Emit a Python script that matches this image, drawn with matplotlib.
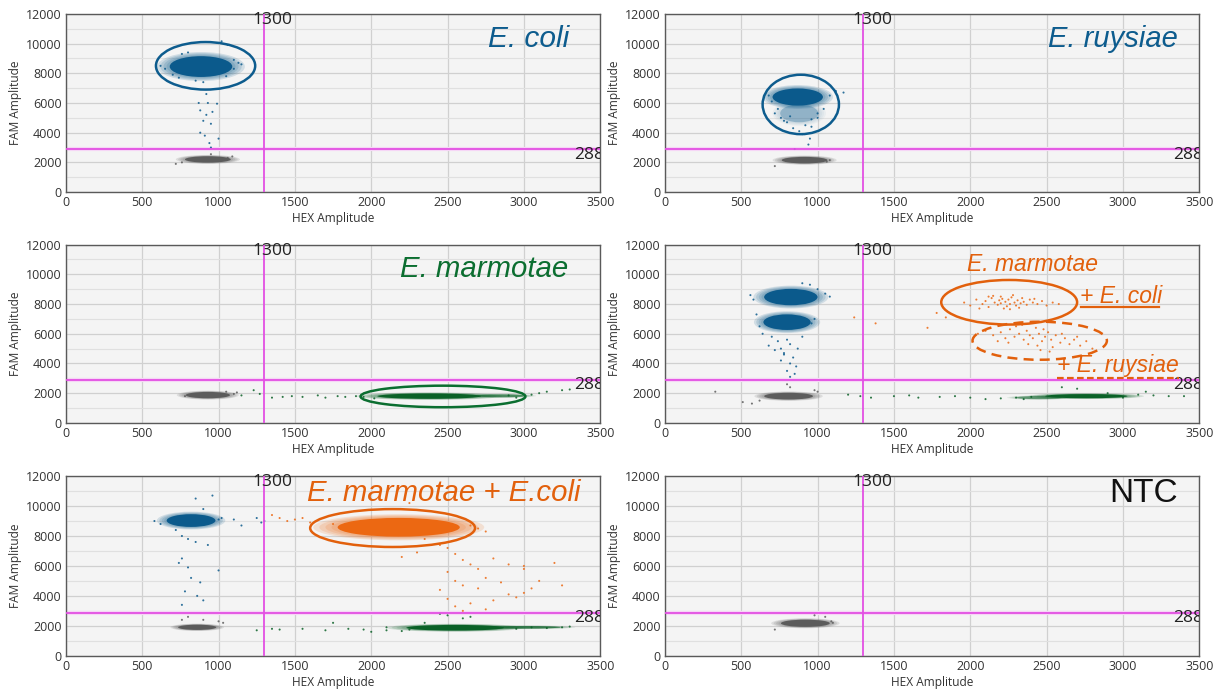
"""
Droplet digital PCR 2-D amplitude plots (FAM vs HEX), six wells.
Dense droplet clouds are drawn as soft ellipses, outliers as single dots.
"""

import matplotlib
matplotlib.use("Agg")
import matplotlib.pyplot as plt
from matplotlib.patches import Ellipse
from matplotlib.ticker import MultipleLocator

plt.rcParams["font.family"] = ["Open Sans", "DejaVu Sans"]

COLORS = {"b": "#0b5a8c", "k": "#5c5c5c", "g": "#0a6127", "o": "#ec6812"}
MAGENTA = "#e34fe3"

THRESH_HEX = 1300
THRESH_FAM = 2880

# ---- panel 1: E. coli ------------------------------------------------------
P1_BLOB_X = [885, 930]
P1_BLOB_Y = [8450, 2200]
P1_BLOB_W = [410, 300]
P1_BLOB_H = [1400, 430]
P1_BLOB_C = ["b", "k"]
P1_BLOB_D = [1.0, 1.0]
P1_DOT_X = [620, 650, 700, 740, 760, 800, 950, 1020, 1060, 1100, 1130, 1150, 1100, 1050, 900, 850,
            920, 870, 930, 990, 880, 920, 960, 900, 950, 880, 910, 1000, 940, 950,
            720, 760, 1090, 1060, 950]
P1_DOT_Y = [8500, 8300, 7900, 7700, 9300, 9400, 10100, 10150, 9900, 8900, 8700, 8600, 8300, 7800, 7400, 7500,
            6600, 6000, 6000, 5950, 5500, 5200, 5400, 4800, 4600, 4000, 3800, 3600, 3300, 3000,
            1900, 2000, 2400, 2300, 2550]
P1_DOT_C = ["b"] * 30 + ["k"] * 5

# ---- panel 2: E. ruysiae ---------------------------------------------------
P2_BLOB_X = [870, 880, 915]
P2_BLOB_Y = [6400, 5300, 2150]
P2_BLOB_W = [330, 250, 300]
P2_BLOB_H = [1150, 1200, 440]
P2_BLOB_C = ["b", "b", "k"]
P2_BLOB_D = [1.0, 0.3, 1.0]
P2_DOT_X = [1170, 1120, 1080, 680, 700, 720, 760, 800, 840, 880, 920, 960, 1000, 1040, 900, 950, 940, 850,
            740, 780, 820, 960, 1000, 720, 1060, 1080]
P2_DOT_Y = [6700, 6800, 6500, 6500, 6100, 5300, 5000, 4700, 4300, 4100, 4500, 4900, 5300, 5600, 3900, 3600, 3200, 2900,
            5600, 4800, 5100, 4400, 5000, 1750, 2050, 2150]
P2_DOT_C = ["b"] * 23 + ["k"] * 3

# ---- panel 3: E. marmotae --------------------------------------------------
P3_BLOB_X = [930, 2380, 2850]
P3_BLOB_Y = [1870, 1800, 1820]
P3_BLOB_W = [290, 680, 330]
P3_BLOB_H = [430, 360, 190]
P3_BLOB_C = ["k", "g", "g"]
P3_BLOB_D = [1.0, 1.0, 0.6]
P3_DOT_X = [1050, 1100, 1120, 780,
            1150, 1230, 1270, 1350, 1420, 1480, 1550, 1650, 1700, 1780, 1830, 1900, 1950, 2020,
            3050, 3100, 3150, 3250, 3300, 2900, 2950]
P3_DOT_Y = [2100, 1950, 2050, 1800,
            1850, 2200, 1950, 1700, 1750, 1800, 1750, 1850, 1700, 1800, 1750, 1800, 1750, 1650,
            1900, 2000, 2100, 2200, 2250, 1850, 1700]
P3_DOT_C = ["k"] * 4 + ["g"] * 21

# ---- panel 4: mixture of three ---------------------------------------------
P4_BLOB_X = [825, 800, 810, 2760, 2450]
P4_BLOB_Y = [8470, 6780, 1800, 1800, 1700]
P4_BLOB_W = [350, 310, 320, 540, 300]
P4_BLOB_H = [1100, 1050, 450, 280, 200]
P4_BLOB_C = ["b", "b", "k", "g", "g"]
P4_BLOB_D = [1.0, 1.0, 1.0, 1.0, 0.5]
P4_DOT_X = [560, 580, 1050, 1080, 950, 900, 1000, 600, 620, 640, 960, 980, 700, 740, 680, 760, 800, 820,
            720, 780, 840, 760, 820, 860, 800, 850, 820, 780, 870, 900,
            330, 510, 570, 620, 800, 820, 980, 1000,
            1960, 2000, 2040, 2080, 2100, 2120, 2140, 2160, 2180, 2190, 2200, 2210, 2230, 2240, 2250,
            2260, 2270, 2290, 2300, 2310, 2330, 2350, 2370, 2390, 2410, 2440, 2470, 2500, 2540, 2580,
            2150, 2220, 2280, 2320, 2120, 2260, 2200, 2340, 2060, 2420,
            2050, 2100, 2150, 2200, 2230, 2260, 2290, 2320, 2350, 2370, 2390, 2410, 2430, 2450, 2470,
            2490, 2510, 2530, 2560, 2590, 2620, 2650, 2680, 2720, 2760, 2800, 2250, 2300, 2380, 2440,
            2480, 2540, 2600, 2340, 2460, 2700, 2180, 2520, 1720, 1840, 1240, 1380, 1780,
            1200, 1280, 1350, 1500, 1660, 1800, 1900, 2000, 2100, 2200, 2300, 2350, 2400, 3100, 3200,
            3300, 3400, 2600, 2700, 3150, 2900, 3000, 1600]
P4_DOT_Y = [8600, 8300, 8700, 8500, 9300, 9400, 9000, 7300, 6500, 6000, 6700, 7000, 5800, 5500, 5200, 5000, 5600, 5300,
            4900, 4600, 4400, 4200, 4000, 3800, 3500, 3300, 3100, 4700, 5000, 5800,
            2100, 1400, 1300, 1500, 2600, 2400, 2200, 2100,
            8100, 7900, 8300, 8000, 8200, 7800, 8400, 8100, 7950, 8250, 8050, 8350, 8150, 7850, 8300,
            8000, 8450, 8100, 7900, 8250, 8050, 8150, 7950, 8300, 8100, 8000, 8200, 7900, 8100, 8000,
            8550, 7700, 8600, 7750, 8500, 7650, 8500, 8400, 7700, 8350,
            6000, 6200, 5900, 6100, 5700, 6300, 5800, 6000, 5600, 6200, 5900, 5700, 6400, 6000, 5500,
            5800, 6100, 5600, 5900, 5400, 5700, 5300, 5600, 5200, 5500, 5000, 5400, 6500, 5300, 5200,
            6300, 5100, 6000, 6600, 4900, 5800, 5500, 4800, 6400, 7100, 7100, 6700, 7400,
            1900, 1800, 1700, 1800, 1700, 1750, 1800, 1700, 1600, 1650, 1700, 1600, 1750, 1900, 1850,
            1800, 1800, 2400, 2300, 2100, 2000, 1700, 1850]
P4_DOT_C = ["b"] * 30 + ["k"] * 8 + ["o"] * 83 + ["g"] * 23

# ---- panel 5: E. marmotae + E. coli ----------------------------------------
P5_BLOB_X = [820, 860, 2180, 2550, 3000]
P5_BLOB_Y = [9030, 1900, 8580, 1870, 1900]
P5_BLOB_W = [320, 250, 800, 640, 480]
P5_BLOB_H = [850, 350, 1250, 380, 170]
P5_BLOB_C = ["b", "k", "o", "g", "g"]
P5_BLOB_D = [1.0, 1.0, 1.0, 1.0, 0.7]
P5_DOT_X = [580, 620, 1000, 1020, 1100, 1150, 1250, 1280, 1300, 720, 760, 800, 850, 760, 740, 800, 820, 880,
            780, 860, 760, 900, 850, 960, 900, 930, 1000,
            760, 800, 900, 1000, 1030,
            1350, 1400, 1450, 1500, 1550, 1600, 1750, 2700, 2750, 2650, 2450, 2500, 2550, 2600, 2650,
            2700, 2800, 2900, 3000, 3200, 2300, 2200, 2500, 2550, 2600, 2700, 2750, 2850, 2900, 3000,
            3100, 3250, 2450, 2500, 2550, 2650, 2750, 2800, 2950, 3050, 2600, 2350, 2250, 3000,
            1250, 1350, 1400, 1550, 1700, 1750, 1850, 1950, 2000, 2100, 2200, 2250, 2350, 2450, 2500,
            2600, 2650, 2950, 3050, 3150, 3250, 3300, 2100]
P5_DOT_Y = [9000, 8800, 9100, 9200, 9100, 8700, 9200, 8900, 9000, 8400, 8000, 7800, 7600, 6500, 6200, 5900, 5200, 4900,
            4300, 4000, 3400, 3700, 10500, 10700, 9800, 7400, 5700,
            2400, 2600, 2400, 2300, 2200,
            9400, 9200, 9000, 9100, 9200, 8900, 8800, 8500, 8300, 8700, 7400, 7200, 6800, 6400, 6100,
            5800, 6500, 6100, 5800, 6200, 6900, 6600, 5600, 5000, 4700, 4500, 5200, 4900, 4100, 4200,
            5000, 4700, 4400, 3800, 3300, 3500, 3100, 3700, 3900, 4500, 3000, 7800, 10200, 6000,
            1700, 1800, 1750, 1800, 1700, 2200, 1800, 1750, 1600, 1700, 1650, 1750, 2200, 2800, 2700,
            2500, 2600, 1800, 1900, 1850, 1900, 1950, 1900]
P5_DOT_C = ["b"] * 27 + ["k"] * 5 + ["o"] * 44 + ["g"] * 23

# ---- panel 6: NTC ----------------------------------------------------------
P6_BLOB_X = [920]
P6_BLOB_Y = [2170]
P6_BLOB_W = [320]
P6_BLOB_H = [480]
P6_BLOB_C = ["k"]
P6_BLOB_D = [1.0]
P6_DOT_X = [720, 1090, 1050, 980, 1100]
P6_DOT_Y = [1750, 2300, 2600, 2700, 2200]
P6_DOT_C = ["k"] * 5

AXES_POS = [
    [0.054, 0.722, 0.438, 0.258],
    [0.545, 0.722, 0.438, 0.258],
    [0.054, 0.388, 0.438, 0.258],
    [0.545, 0.388, 0.438, 0.258],
    [0.054, 0.051, 0.438, 0.260],
    [0.545, 0.051, 0.438, 0.260],
]


def blobs(ax, xs, ys, ws, hs, cs, ds):
    # soft droplet cloud: stacked faint halos around a core (d = core opacity)
    for x, y, w, h, c, d in zip(xs, ys, ws, hs, cs, ds):
        for scale in [1.4, 1.3, 1.2, 1.1]:
            ax.add_patch(Ellipse((x, y), w * scale, h * scale, facecolor=COLORS[c],
                                 edgecolor="none", alpha=0.15 * d, zorder=3))
        ax.add_patch(Ellipse((x, y), w, h, facecolor=COLORS[c],
                             edgecolor="none", alpha=d, zorder=3))


def dots(ax, xs, ys, cs):
    ax.scatter(xs, ys, s=2.2, c=[COLORS[c] for c in cs], linewidths=0, alpha=0.85, zorder=4)


def ring(ax, x, y, w, h, color, ls="-"):
    ax.add_patch(Ellipse((x, y), w, h, facecolor="none", edgecolor=color,
                         lw=1.8, ls=ls, zorder=6))


def base(ax):
    ax.set_facecolor("#f4f4f4")
    ax.set_xlim(0, 3500)
    ax.set_ylim(0, 12000)
    ax.xaxis.set_major_locator(MultipleLocator(500))
    ax.yaxis.set_major_locator(MultipleLocator(2000))
    ax.yaxis.set_minor_locator(MultipleLocator(1000))
    ax.grid(True, which="major", color="#d0d0d0", lw=0.9, zorder=0)
    ax.grid(True, which="minor", axis="y", color="#e0e0e0", lw=0.8, zorder=0)
    ax.set_axisbelow(True)
    ax.tick_params(which="both", length=0, labelsize=9, labelcolor="#333333", pad=3)
    for sp in ax.spines.values():
        sp.set_color("#5a5a5a")
        sp.set_linewidth(1.0)
    ax.set_xlabel("HEX Amplitude", fontsize=8.6, color="#333333", labelpad=2)
    ax.set_ylabel("FAM Amplitude", fontsize=8.6, color="#333333", labelpad=3)
    ax.axvline(THRESH_HEX, color=MAGENTA, lw=1.3, zorder=5)
    ax.axhline(THRESH_FAM, color="#f6d6f6", lw=3, zorder=1)
    ax.axhline(THRESH_FAM, color=MAGENTA, lw=1.3, zorder=5)
    ax.text(1225, 11600, str(THRESH_HEX), fontsize=12.5, color="#222222",
            ha="left", va="center", zorder=7, clip_on=False)
    ax.text(3330, 2520, str(THRESH_FAM), fontsize=12.5, color="#222222",
            ha="left", va="center", zorder=7, clip_on=True)


def label(ax, x, y, s, color, size=21, italic=True):
    ax.text(x, y, s, fontsize=size, color=color, ha="center", va="center",
            family=["Liberation Sans", "DejaVu Sans"],
            style="italic" if italic else "normal", zorder=8)


fig = plt.figure(figsize=(12.2, 6.91), dpi=100)
axs = [fig.add_axes(p) for p in AXES_POS]
for ax in axs:
    base(ax)

ann_blue = "#0d5c8e"
ann_green = "#0b6e30"
ann_orange = "#e2600c"

ax = axs[0]
blobs(ax, P1_BLOB_X, P1_BLOB_Y, P1_BLOB_W, P1_BLOB_H, P1_BLOB_C, P1_BLOB_D)
dots(ax, P1_DOT_X, P1_DOT_Y, P1_DOT_C)
ring(ax, 915, 8500, 650, 3200, ann_blue)
label(ax, 3028, 10300, "E. coli", ann_blue, size=21.5)

ax = axs[1]
blobs(ax, P2_BLOB_X, P2_BLOB_Y, P2_BLOB_W, P2_BLOB_H, P2_BLOB_C, P2_BLOB_D)
dots(ax, P2_DOT_X, P2_DOT_Y, P2_DOT_C)
ring(ax, 890, 5900, 500, 4000, ann_blue)
label(ax, 2937, 10300, "E. ruysiae", ann_blue, size=21)

ax = axs[2]
blobs(ax, P3_BLOB_X, P3_BLOB_Y, P3_BLOB_W, P3_BLOB_H, P3_BLOB_C, P3_BLOB_D)
dots(ax, P3_DOT_X, P3_DOT_Y, P3_DOT_C)
ring(ax, 2470, 1780, 1080, 1450, ann_green)
label(ax, 2740, 10350, "E. marmotae", ann_green, size=21.2)

ax = axs[3]
blobs(ax, P4_BLOB_X, P4_BLOB_Y, P4_BLOB_W, P4_BLOB_H, P4_BLOB_C, P4_BLOB_D)
dots(ax, P4_DOT_X, P4_DOT_Y, P4_DOT_C)
ring(ax, 2255, 8120, 890, 3000, ann_orange)
ring(ax, 2455, 5530, 880, 2560, ann_orange, ls=(0, (4, 2.5)))
label(ax, 2410, 10650, "E. marmotae", ann_orange, size=16.5)
label(ax, 2985, 8500, "+ E. coli", ann_orange, size=16.5)
ax.plot([2728, 3236], [7800, 7800], color=ann_orange, lw=1.6, zorder=8)
label(ax, 2965, 3850, "+ E. ruysiae", ann_orange, size=16.5)
ax.plot([2565, 3370], [3050, 3050], color=ann_orange, lw=1.6, ls=(0, (3, 1.5)), zorder=8)

ax = axs[4]
blobs(ax, P5_BLOB_X, P5_BLOB_Y, P5_BLOB_W, P5_BLOB_H, P5_BLOB_C, P5_BLOB_D)
dots(ax, P5_DOT_X, P5_DOT_Y, P5_DOT_C)
ring(ax, 2140, 8530, 1080, 2530, ann_orange)
label(ax, 2474, 10850, "E. marmotae + E.coli", ann_orange, size=21.2)

ax = axs[5]
blobs(ax, P6_BLOB_X, P6_BLOB_Y, P6_BLOB_W, P6_BLOB_H, P6_BLOB_C, P6_BLOB_D)
dots(ax, P6_DOT_X, P6_DOT_Y, P6_DOT_C)
label(ax, 3135, 10850, "NTC", "#111111", size=24, italic=False)

fig.savefig("out.png", dpi=100)
